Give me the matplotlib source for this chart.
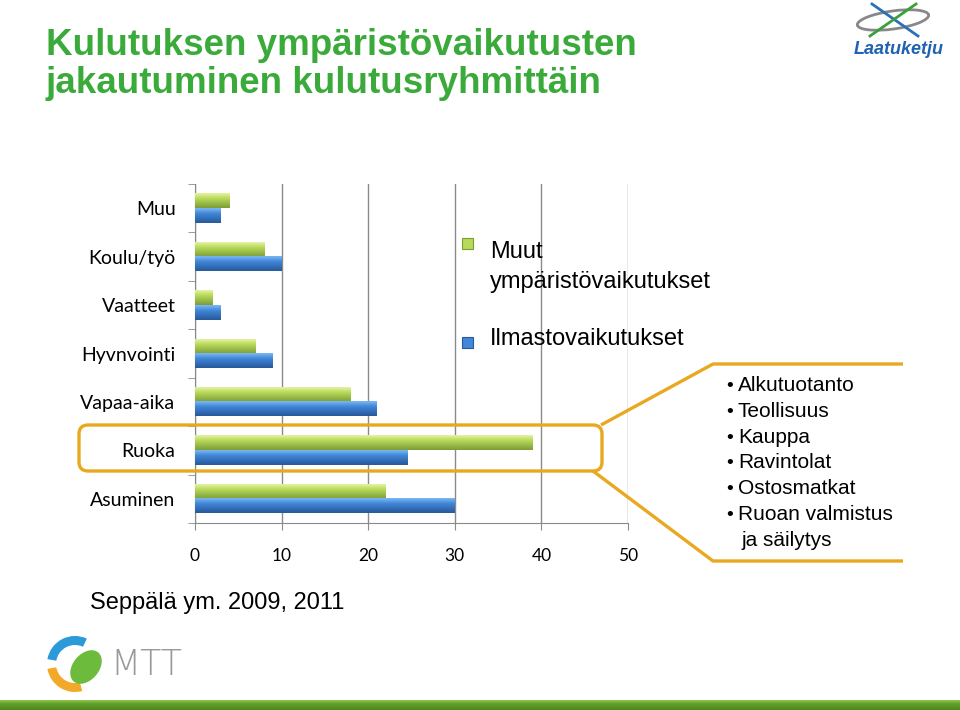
#! /usr/bin/env python3

"Kulutuksen ympäristövaikutusten jakautuminen kulutusryhmittäin - vaakapylväät"

import numpy as np
import matplotlib
matplotlib.use("Agg")
import matplotlib.pyplot as plt
from matplotlib.patches import FancyBboxPatch, Rectangle, Wedge, Ellipse
from matplotlib.colors import to_rgb

categories = ["Muu", "Koulu/työ", "Vaatteet", "Hyvnvointi", "Vapaa-aika", "Ruoka", "Asuminen"]
muut_vaikutukset = [4, 8, 2, 7, 18, 39, 22]
ilmasto_vaikutukset = [3, 10, 3, 9, 21, 24.5, 30]
series_names = [["Muut", "ympäristövaikutukset"], ["Ilmastovaikutukset"]]
x_ticks = [0, 10, 20, 30, 40, 50]
ruoka_osat = ["Alkutuotanto", "Teollisuus", "Kauppa", "Ravintolat",
              "Ostosmatkat", "Ruoan valmistus"]
title_lines = ["Kulutuksen ympäristövaikutusten", "jakautuminen kulutusryhmittäin"]
source = "Seppälä ym. 2009, 2011"

GREEN = ["#e4f3a4", "#b8da5a", "#7c9d36"]
BLUE = ["#7cb9f2", "#4287d9", "#27589a"]
ORANGE = "#e8a921"
GRAY = "#8a8a8a"


def gradient(colors, n=40):
    # top -> middle -> bottom
    top, mid, bot = [np.array(to_rgb(c)) for c in colors]
    t = np.linspace(0, 1, n)[:, None]
    upper = top + (mid - top) * np.clip(t / 0.35, 0, 1)
    out = np.where(t < 0.35, upper, mid + (bot - mid) * np.clip((t - 0.35) / 0.65, 0, 1))
    return out.reshape(n, 1, 3)


def shade_bars(ax, bars, colors):
    img = gradient(colors)
    for b in bars:
        x0, y0 = b.get_x(), b.get_y()
        ax.imshow(img, extent=(x0, x0 + b.get_width(), y0, y0 + b.get_height()),
                  aspect="auto", interpolation="bicubic", zorder=3, clip_path=b)


fig = plt.figure(figsize=(9.6, 7.1), dpi=100)
ax = fig.add_axes([195 / 960, 1 - 523 / 710, 433 / 960, 339 / 710])

n = len(categories)
pos = np.arange(n)[::-1]
h = 0.3
g_bars = ax.barh(pos + h / 2, muut_vaikutukset, height=h, color=GREEN[1],
                 edgecolor="none", zorder=2)
b_bars = ax.barh(pos - h / 2, ilmasto_vaikutukset, height=h, color=BLUE[1],
                 edgecolor="none", zorder=2)
shade_bars(ax, g_bars, GREEN)
shade_bars(ax, b_bars, BLUE)

ax.set_xlim(0, 50)
ax.set_ylim(-0.5, n - 0.5)
ax.set_xticks(x_ticks)
ax.set_xticklabels([str(t) for t in x_ticks], fontsize=12.5, family="Lato")
ax.set_yticks(pos)
ax.set_yticklabels(categories, fontsize=14, family="Lato")
ax.set_yticks(np.arange(n + 1) - 0.5, minor=True)
ax.tick_params(axis="y", which="major", length=0, pad=14)
ax.tick_params(axis="y", which="minor", length=5, color=GRAY)
ax.tick_params(axis="x", length=5, color=GRAY, pad=13)
ax.xaxis.grid(True, color=GRAY, lw=1)
ax.set_axisbelow(True)
for s in ["top", "right"]:
    ax.spines[s].set_visible(False)
for s in ["left", "bottom"]:
    ax.spines[s].set_color(GRAY)

# overlay in pixel coordinates for texts and decorations
ov = fig.add_axes([0, 0, 1, 1], zorder=5)
ov.set_xlim(0, 960)
ov.set_ylim(710, 0)
ov.axis("off")
ov.patch.set_alpha(0)

for yy, line in zip([55, 93], title_lines):
    ov.text(46, yy, line, fontsize=26.5, fontweight="bold", color="#3aab3a",
            family="Liberation Sans", va="baseline")
ov.text(90, 603, source, fontsize=17, family="Liberation Sans", va="center")

# legend
for yy, cols, lines in [(243, GREEN, series_names[0]), (342, BLUE, series_names[1])]:
    ov.add_patch(Rectangle((461.5, yy - 5.5), 11, 11, facecolor=cols[1],
                           edgecolor=cols[2], lw=0.8))
    base = yy + 15 if len(lines) > 1 else yy + 3
    for k, line in enumerate(lines):
        ov.text(490, base + k * 30, line, fontsize=17, family="Liberation Sans",
                va="baseline")

# callout box around Ruoka
ov.add_patch(FancyBboxPatch((79, 425), 523, 46,
                            boxstyle="round,pad=0,rounding_size=9",
                            facecolor="none", edgecolor=ORANGE, lw=2.4))
ov.plot([601, 713, 903], [425, 364, 364], color=ORANGE, lw=2.4,
        solid_capstyle="butt")
ov.plot([593, 713, 903], [471, 561, 561], color=ORANGE, lw=2.4,
        solid_capstyle="butt")
for i, txt in enumerate(ruoka_osat):
    yy = 391 + i * 25.8
    ov.text(726, yy, "•", fontsize=14, family="Liberation Sans", va="baseline")
    ov.text(738, yy, txt, fontsize=15, family="Liberation Sans", va="baseline")
ov.text(742, 391 + 6 * 25.8, "ja säilytys", fontsize=15, family="Liberation Sans",
        va="baseline")

# MTT logo (simplified)
ov.add_patch(Wedge((75, 664), 28, 190, 295, width=9, facecolor="#2a9ad8"))
ov.add_patch(Wedge((75, 664), 28, 75, 170, width=9, facecolor="#f2a92a"))
ov.add_patch(Ellipse((86, 667), 26, 38, angle=40, facecolor="#6cbb3c"))
ov.text(110, 665, "MTT", fontsize=25, color="#9a9a9a", family="DejaVu Sans",
        fontweight="light", va="center")

# Laatuketju logo (simplified)
ov.add_patch(Ellipse((893, 20), 72, 18, angle=-8, facecolor="none",
                     edgecolor="#888888", lw=2))
ov.plot([872, 918], [4, 36], color="#2a70b8", lw=2)
ov.plot([870, 916], [36, 4], color="#3aa03a", lw=2)
ov.text(899, 50, "Laatuketju", fontsize=13, color="#1f62b0", fontweight="bold",
        style="italic", family="Liberation Sans", ha="center", va="center")

# bottom strip
ov.imshow(gradient(["#8cc24a", "#62a12c", "#4e8a22"], 10),
          extent=(0, 960, 710, 700), aspect="auto", zorder=1)
ov.set_xlim(0, 960)
ov.set_ylim(710, 0)

fig.savefig("out.png", dpi=100)
